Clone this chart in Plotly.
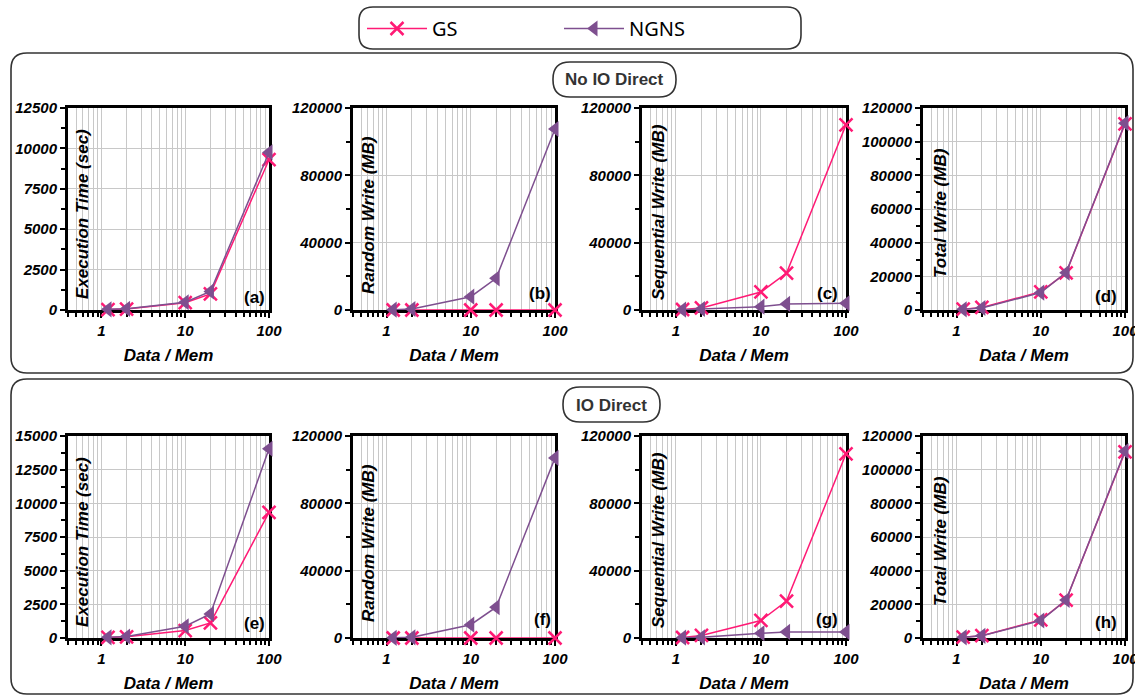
import math
import plotly.graph_objects as go

W, H = 1135, 696

# ---------------- data ----------------
x_ratio = [1.2, 2, 10, 20, 100]
x_tick_vals = [1, 10, 100]
x_tick_text = ["1", "10", "100"]

gs_exec_noio = [30, 60, 450, 1000, 9300]
ngns_exec_noio = [40, 70, 480, 1150, 9750]
gs_rand_noio = [0, 0, 0, 0, 0]
ngns_rand_noio = [200, 600, 7900, 18800, 107500]
gs_seq_noio = [300, 1200, 10700, 21900, 110000]
ngns_seq_noio = [200, 600, 2000, 3600, 4000]
gs_total_noio = [500, 1500, 10800, 22000, 110500]
ngns_total_noio = [400, 1200, 10300, 22200, 111000]

gs_exec_io = [40, 90, 550, 1120, 9330]
ngns_exec_io = [50, 110, 870, 1790, 14050]
gs_rand_io = [0, 0, 0, 0, 0]
ngns_rand_io = [100, 400, 7900, 18300, 107000]
gs_seq_io = [300, 1500, 10400, 21900, 109400]
ngns_seq_io = [200, 400, 2800, 3600, 3600]
gs_total_io = [500, 1400, 10700, 22500, 110500]
ngns_total_io = [400, 1300, 10400, 22600, 111000]

series_names = ["GS", "NGNS"]
y_titles = ["Execution Time (sec)", "Random Write (MB)", "Sequential Write (MB)", "Total Write (MB)"]
panel_labels = ["(a)", "(b)", "(c)", "(d)", "(e)", "(f)", "(g)", "(h)"]
group_titles = ["No IO Direct", "IO Direct"]
x_title = "Data / Mem"

panels_gs = [gs_exec_noio, gs_rand_noio, gs_seq_noio, gs_total_noio,
             gs_exec_io, gs_rand_io, gs_seq_io, gs_total_io]
panels_ngns = [ngns_exec_noio, ngns_rand_noio, ngns_seq_noio, ngns_total_noio,
               ngns_exec_io, ngns_rand_io, ngns_seq_io, ngns_total_io]

# y axis setups (max, major step, minor step)
y_setups = [(12500, 2500, 1250), (120000, 40000, 20000), (120000, 40000, 20000), (120000, 20000, 10000),
            (15000, 2500, 1250), (120000, 40000, 20000), (120000, 40000, 20000), (120000, 20000, 10000)]

# ---------------- layout geometry (pixels) ----------------
cols_px = [(68, 269), (353, 555), (642, 846), (923, 1125)]
rows_px = [(108, 310), (436, 638)]

GS_COLOR = "#FF1A75"
NGNS_COLOR = "#7E4F8F"
GRID = "#C8C8C8"
FONT = "Liberation Sans, Arial, sans-serif"


def px(x):
    return x / W


def py(y):
    return 1 - y / H


def rounded_rect(x0, y0, x1, y1, r):
    def P(x, y):
        return f"{px(x):.5f},{py(y):.5f}"
    path = (f"M {P(x0 + r, y0)} L {P(x1 - r, y0)} Q {P(x1, y0)} {P(x1, y0 + r)} "
            f"L {P(x1, y1 - r)} Q {P(x1, y1)} {P(x1 - r, y1)} "
            f"L {P(x0 + r, y1)} Q {P(x0, y1)} {P(x0, y1 - r)} "
            f"L {P(x0, y0 + r)} Q {P(x0, y0)} {P(x0 + r, y0)} Z")
    return path


fig = go.Figure()
annotations = []
bold_italic = dict(family=FONT, weight="bold", style="italic", color="black")

minor_x = [0.4, 0.5, 0.6, 0.7, 0.8, 0.9] + [v for v in range(2, 10)] + [v * 10 for v in range(2, 10)]

for i in range(8):
    r, c = divmod(i, 4)
    ax = "" if i == 0 else str(i + 1)
    xa, ya = "x" + ax, "y" + ax
    x0p, x1p = cols_px[c]
    t, b = rows_px[r]

    fig.add_trace(go.Scatter(
        x=x_ratio, y=panels_gs[i], name=series_names[0], mode="lines+markers",
        line=dict(color=GS_COLOR, width=1.5),
        marker=dict(symbol="x-thin", size=13, line=dict(color=GS_COLOR, width=2.5), color=GS_COLOR),
        xaxis=xa, yaxis=ya, cliponaxis=False, showlegend=(i == 0), legendgroup="gs"))
    fig.add_trace(go.Scatter(
        x=x_ratio, y=panels_ngns[i], name=series_names[1], mode="lines+markers",
        line=dict(color=NGNS_COLOR, width=1.5),
        marker=dict(symbol="triangle-left", size=14, color=NGNS_COLOR),
        xaxis=xa, yaxis=ya, cliponaxis=False, showlegend=(i == 0), legendgroup="ngns"))

    ymax, ystep, yminor = y_setups[i]
    fig.layout["xaxis" + ax] = dict(
        type="log", range=[math.log10(0.4), 2], domain=[px(x0p), px(x1p)], anchor=ya,
        tickmode="array", tickvals=x_tick_vals, ticktext=x_tick_text,
        ticks="outside", ticklen=5, tickwidth=2, tickcolor="black",
        showline=True, linewidth=3, linecolor="black", mirror=True,
        showgrid=True, gridcolor=GRID, gridwidth=1, zeroline=False,
        minor=dict(tickmode="array", tickvals=minor_x, ticks="outside", ticklen=4, tickwidth=2,
                   tickcolor="black", showgrid=True, gridcolor=GRID, gridwidth=1),
        tickfont=dict(size=15, **bold_italic), ticklabeloverflow="allow",
        title=dict(text=x_title, font=dict(size=17, **bold_italic), standoff=12),
        layer="below traces", fixedrange=True)
    fig.layout["yaxis" + ax] = dict(
        range=[0, ymax], domain=[py(b), py(t)], anchor=xa,
        tickmode="linear", tick0=0, dtick=ystep,
        ticks="outside", ticklen=5, tickwidth=2, tickcolor="black",
        showline=True, linewidth=3, linecolor="black", mirror=True,
        showgrid=True, gridcolor=GRID, gridwidth=1, zeroline=False,
        minor=dict(dtick=yminor, ticks="outside", ticklen=4, tickwidth=2, tickcolor="black", showgrid=False),
        tickfont=dict(size=15, **bold_italic), tickformat="d", ticklabeloverflow="allow",
        layer="below traces", fixedrange=True)

    # y title inside the plot area
    ytx = [82, 368, 658, 940][c]
    ytb = [301, 296, 302, 280][c] + (r * 328 if r else 0)
    annotations.append(dict(
        text=y_titles[c], xref="paper", yref="paper", x=px(ytx), y=py(ytb),
        xanchor="center", yanchor="bottom", textangle=-90, showarrow=False,
        font=dict(size=17, **bold_italic)))
    # panel label
    lab_right = [267, 553, 840, 1119][c]
    lab_bottom = [309, 305, 305, 308][c] + (r * 326 if r else 0)
    annotations.append(dict(
        text=panel_labels[i], xref="paper", yref="paper", x=px(lab_right), y=py(lab_bottom),
        xanchor="right", yanchor="bottom", showarrow=False,
        font=dict(size=17, family=FONT, weight="bold", color="black")))

# group titles in pills
annotations.append(dict(text=group_titles[0], xref="paper", yref="paper", x=px(614.5), y=py(80),
                        xanchor="center", yanchor="middle", showarrow=False,
                        font=dict(size=17, family=FONT, weight="bold", color="#333333")))
annotations.append(dict(text=group_titles[1], xref="paper", yref="paper", x=px(611.5), y=py(405),
                        xanchor="center", yanchor="middle", showarrow=False,
                        font=dict(size=17, family=FONT, weight="bold", color="#333333")))

frame_line = dict(color="#333333", width=1.6)
shapes = [
    dict(type="path", xref="paper", yref="paper", path=rounded_rect(359, 7, 801, 49, 14), line=frame_line,
         fillcolor="rgba(0,0,0,0)", layer="below"),
    dict(type="path", xref="paper", yref="paper", path=rounded_rect(11, 53, 1133, 373, 16), line=frame_line,
         fillcolor="rgba(0,0,0,0)", layer="below"),
    dict(type="path", xref="paper", yref="paper", path=rounded_rect(11, 379, 1133, 694, 16), line=frame_line,
         fillcolor="rgba(0,0,0,0)", layer="below"),
    dict(type="path", xref="paper", yref="paper", path=rounded_rect(553, 62, 676, 97, 17), line=frame_line,
         fillcolor="white", layer="below"),
    dict(type="path", xref="paper", yref="paper", path=rounded_rect(563, 387, 660, 422, 17), line=frame_line,
         fillcolor="white", layer="below"),
]

fig.update_layout(
    template="none",
    width=W, height=H, margin=dict(l=0, r=0, t=0, b=0),
    paper_bgcolor="white", plot_bgcolor="white",
    showlegend=True,
    legend=dict(orientation="h", x=px(362), y=py(9), xanchor="left", yanchor="top",
                font=dict(size=20, family="Noto Sans, Open Sans, sans-serif", color="black"),
                bgcolor="rgba(0,0,0,0)", borderwidth=0,
                entrywidth=122, entrywidthmode="pixels", itemwidth=60, traceorder="normal"),
    annotations=annotations,
    shapes=shapes,
)

fig.write_html("out.html")
